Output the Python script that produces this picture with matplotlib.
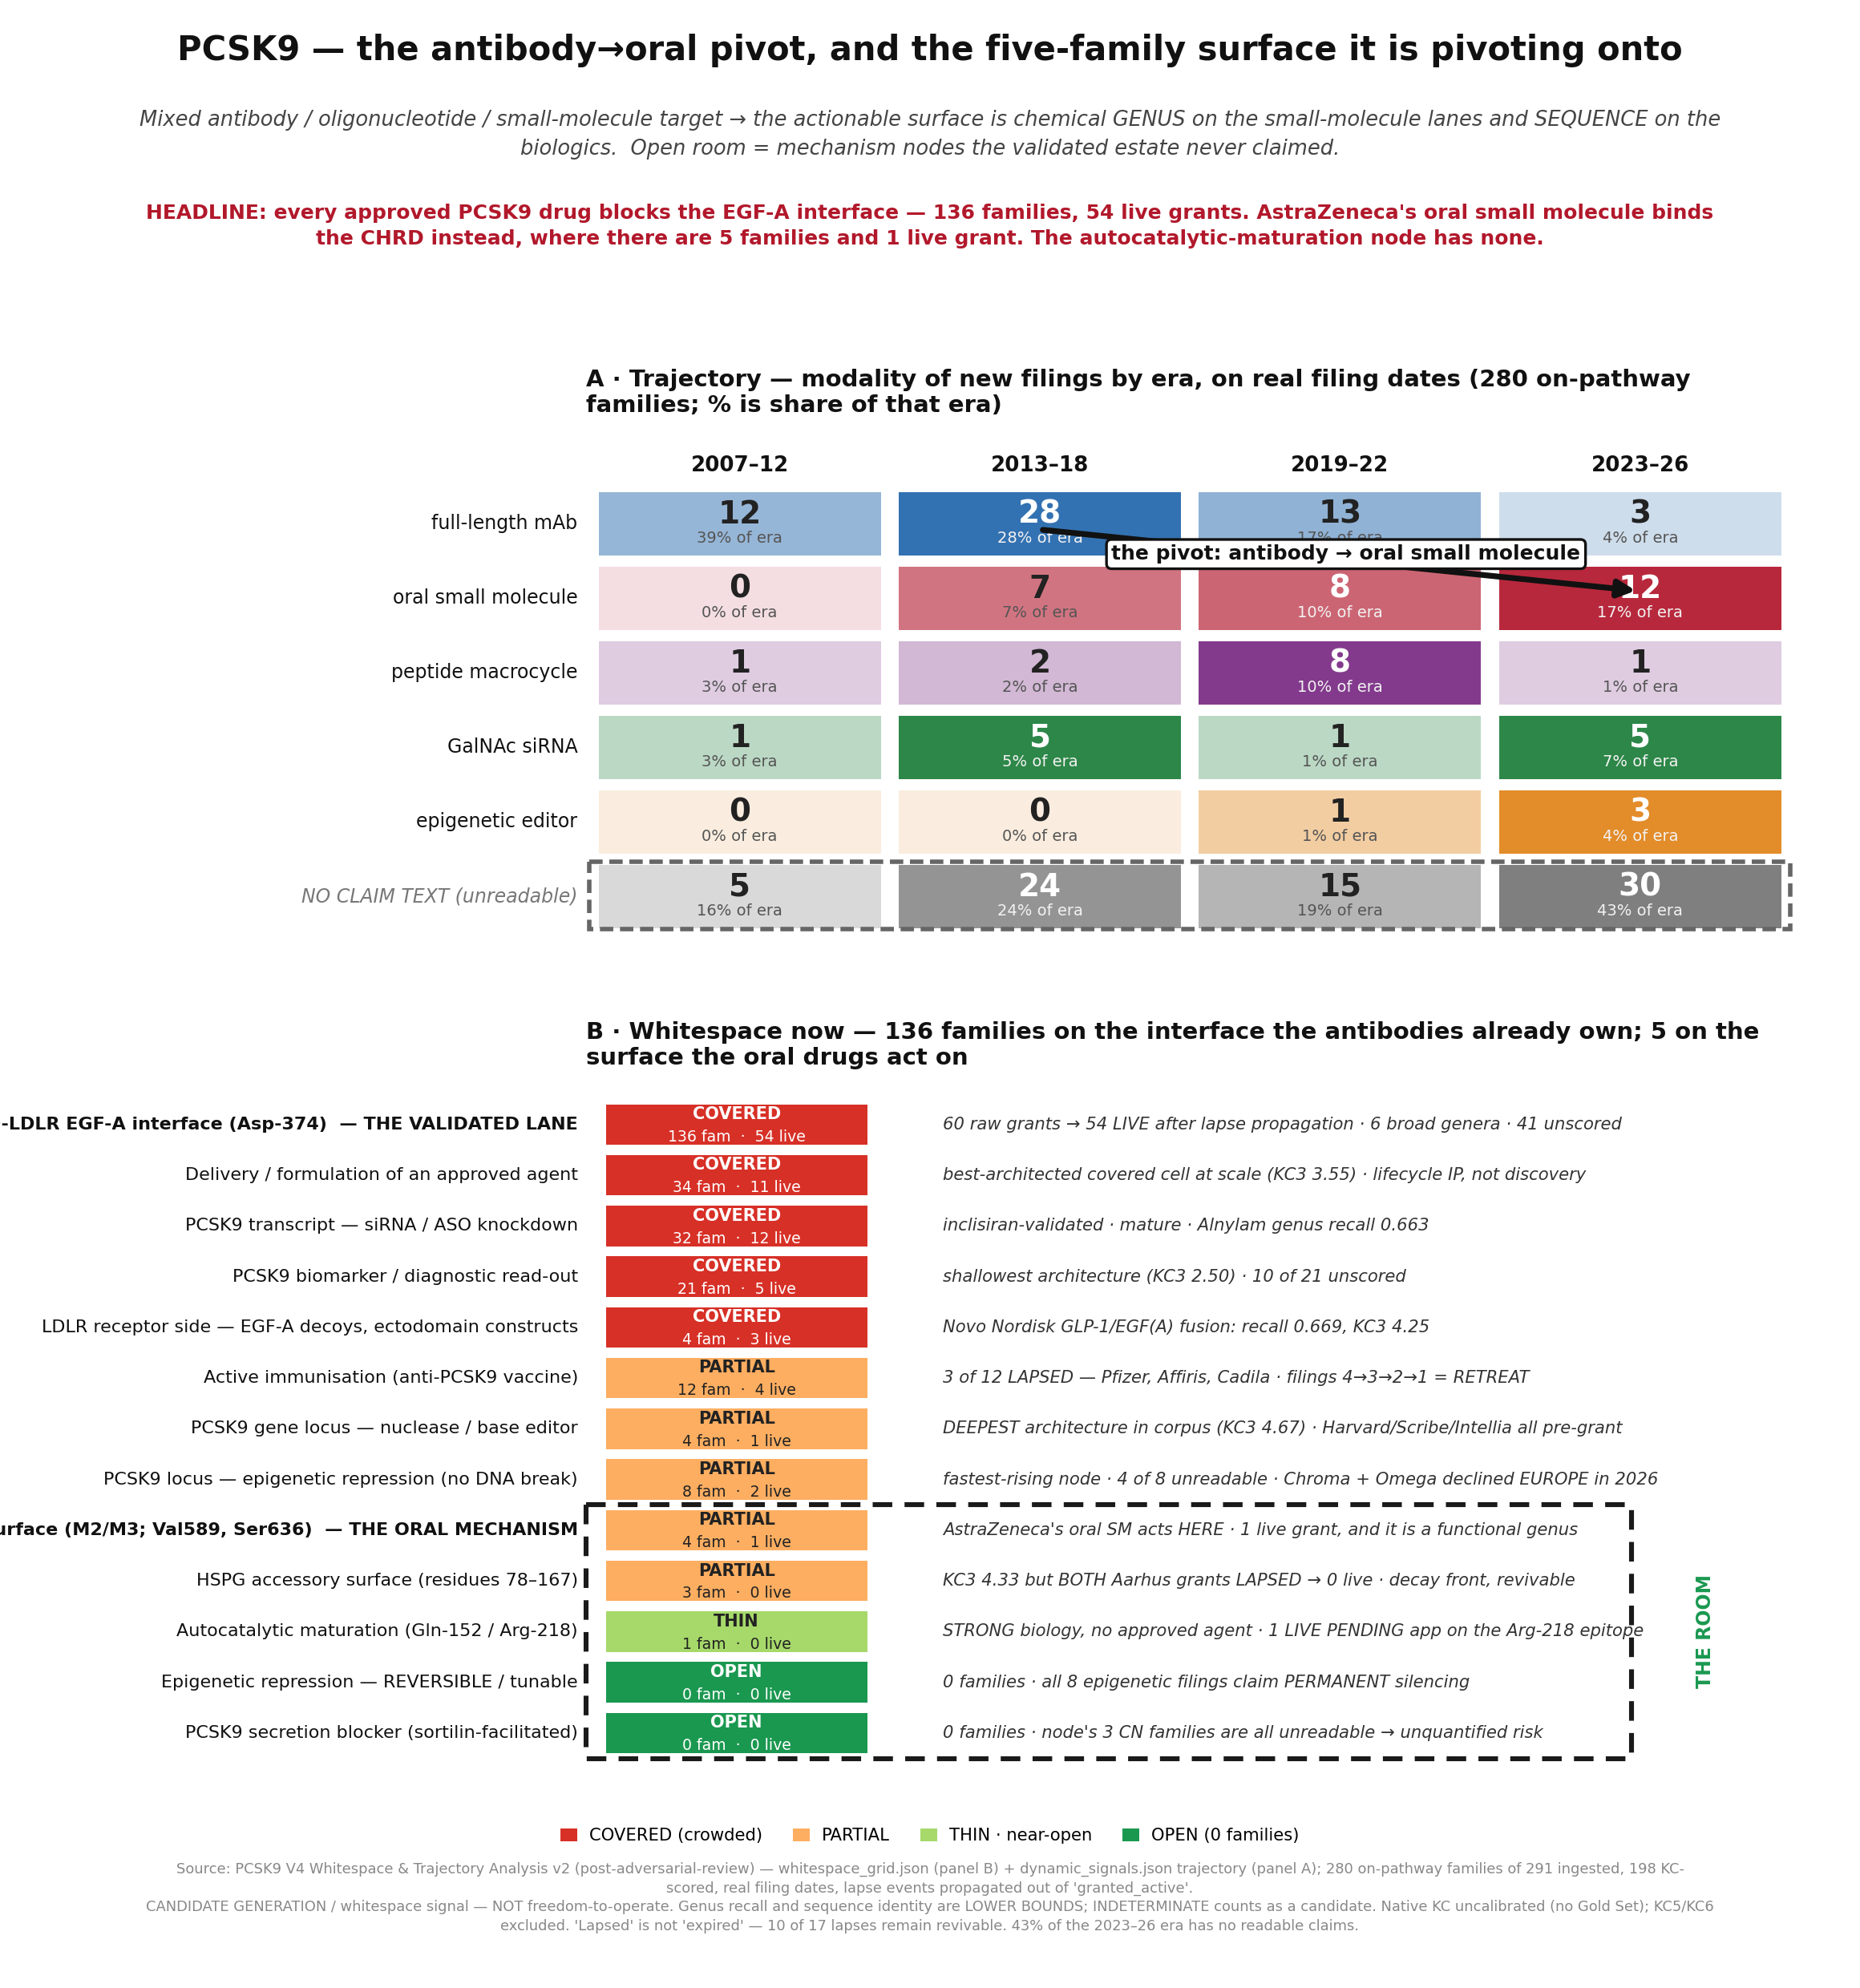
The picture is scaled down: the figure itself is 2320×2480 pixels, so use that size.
import matplotlib
matplotlib.use('Agg')
import matplotlib.pyplot as plt
from matplotlib.patches import Rectangle, Patch

# ---- panel A data: new filings by modality and era
eras = ['2007–12', '2013–18', '2019–22', '2023–26']
modalities = ['full-length mAb', 'oral small molecule', 'peptide macrocycle',
              'GalNAc siRNA', 'epigenetic editor', 'NO CLAIM TEXT (unreadable)']
counts = [
    [12, 28, 13, 3],
    [0, 7, 8, 12],
    [1, 2, 8, 1],
    [1, 5, 1, 5],
    [0, 0, 1, 3],
    [5, 24, 15, 30],
]
share_pct = [
    [39, 28, 17, 4],
    [0, 7, 10, 17],
    [3, 2, 10, 1],
    [3, 5, 1, 7],
    [0, 0, 1, 4],
    [16, 24, 19, 43],
]
row_colors = ['#3372b2', '#b8283c', '#833a8d', '#2d8748', '#e38c2a', '#7f7f7f']

# ---- panel B data: whitespace grid
nodes = [
    'PCSK9-LDLR EGF-A interface (Asp-374)  — THE VALIDATED LANE',
    'Delivery / formulation of an approved agent',
    'PCSK9 transcript — siRNA / ASO knockdown',
    'PCSK9 biomarker / diagnostic read-out',
    'LDLR receptor side — EGF-A decoys, ectodomain constructs',
    'Active immunisation (anti-PCSK9 vaccine)',
    'PCSK9 gene locus — nuclease / base editor',
    'PCSK9 locus — epigenetic repression (no DNA break)',
    'CHRD C-terminal surface (M2/M3; Val589, Ser636)  — THE ORAL MECHANISM',
    'HSPG accessory surface (residues 78–167)',
    'Autocatalytic maturation (Gln-152 / Arg-218)',
    'Epigenetic repression — REVERSIBLE / tunable',
    'PCSK9 secretion blocker (sortilin-facilitated)',
]
bold_nodes = [0, 8]
status = ['COVERED'] * 5 + ['PARTIAL'] * 5 + ['THIN', 'OPEN', 'OPEN']
fams = [136, 34, 32, 21, 4, 12, 4, 8, 4, 3, 1, 0, 0]
live = [54, 11, 12, 5, 3, 4, 1, 2, 1, 0, 0, 0, 0]
notes = [
    '60 raw grants → 54 LIVE after lapse propagation · 6 broad genera · 41 unscored',
    'best-architected covered cell at scale (KC3 3.55) · lifecycle IP, not discovery',
    'inclisiran-validated · mature · Alnylam genus recall 0.663',
    'shallowest architecture (KC3 2.50) · 10 of 21 unscored',
    'Novo Nordisk GLP-1/EGF(A) fusion: recall 0.669, KC3 4.25',
    '3 of 12 LAPSED — Pfizer, Affiris, Cadila · filings 4→3→2→1 = RETREAT',
    'DEEPEST architecture in corpus (KC3 4.67) · Harvard/Scribe/Intellia all pre-grant',
    'fastest-rising node · 4 of 8 unreadable · Chroma + Omega declined EUROPE in 2026',
    "AstraZeneca's oral SM acts HERE · 1 live grant, and it is a functional genus",
    'KC3 4.33 but BOTH Aarhus grants LAPSED → 0 live · decay front, revivable',
    'STRONG biology, no approved agent · 1 LIVE PENDING app on the Arg-218 epitope',
    '0 families · all 8 epigenetic filings claim PERMANENT silencing',
    "0 families · node's 3 CN families are all unreadable → unquantified risk",
]
status_colors = {'COVERED': '#d73027', 'PARTIAL': '#fdae61', 'THIN': '#a6d96a', 'OPEN': '#1a9850'}
status_labels = {'COVERED': 'COVERED (crowded)', 'PARTIAL': 'PARTIAL',
                 'THIN': 'THIN · near-open', 'OPEN': 'OPEN (0 families)'}

fig = plt.figure(figsize=(11.6, 12.4), dpi=200)

# header texts
fig.text(0.5, 0.9745, 'PCSK9 — the antibody→oral pivot, and the five-family surface it is pivoting onto',
         ha='center', va='center', fontsize=15, fontweight='bold', color='#111')
fig.text(0.5, 0.9324,
         'Mixed antibody / oligonucleotide / small-molecule target → the actionable surface is chemical GENUS on the small-molecule lanes and SEQUENCE on the\n'
         'biologics.  Open room = mechanism nodes the validated estate never claimed.',
         ha='center', va='center', fontsize=9.25, style='italic', color='#444', linespacing=1.5)
fig.text(0.5, 0.8862,
         "HEADLINE: every approved PCSK9 drug blocks the EGF-A interface — 136 families, 54 live grants. AstraZeneca's oral small molecule binds\n"
         'the CHRD instead, where there are 5 families and 1 live grant. The autocatalytic-maturation node has none.',
         ha='center', va='center', fontsize=9, fontweight='bold', color='#b2182b', linespacing=1.45)

# ---- panel A
axA = fig.add_axes([0.3170, 0.5304, 0.6455, 0.2250])
axA.set_xlim(-0.5, 3.5)
axA.set_ylim(5.5, -0.5)
axA.axis('off')
fig.text(0.315, 0.8023,
         'A · Trajectory — modality of new filings by era, on real filing dates (280 on-pathway\n'
         'families; % is share of that era)',
         ha='left', va='center', fontsize=10.5, fontweight='bold', color='#111', linespacing=1.2)

for c, era in enumerate(eras):
    axA.text(c, -0.77, era, ha='center', va='center', fontsize=9.4, fontweight='bold', color='#111')

for r, mod in enumerate(modalities):
    rmax = max(counts[r]) or 1
    last = (r == len(modalities) - 1)
    axA.text(-0.54, r, mod, ha='right', va='center', fontsize=8.5,
             color='#777' if last else '#111', style='italic' if last else 'normal')
    for c in range(len(eras)):
        v = counts[r][c]
        frac = v / rmax
        axA.add_patch(Rectangle((c - 0.47, r - 0.425), 0.94, 0.85,
                                facecolor=row_colors[r], alpha=0.15 + 0.85 * frac, edgecolor='none'))
        dark = frac > 0.6
        axA.text(c, r - 0.12, str(v), ha='center', va='center', fontsize=14, fontweight='bold',
                 color='white' if dark else '#222')
        axA.text(c, r + 0.2, f'{share_pct[r][c]}% of era', ha='center', va='center', fontsize=7,
                 color='#f2f2f2' if dark else '#555')

axA.add_patch(Rectangle((-0.5, 4.54), 4.0, 0.9, fill=False, edgecolor='#666',
                        linestyle=(0, (3, 1.5)), linewidth=2, clip_on=False))

axA.annotate('', xy=(2.985, 0.90), xytext=(1.01, 0.085),
             arrowprops=dict(arrowstyle='-|>', lw=2.6, color='#111', mutation_scale=16,
                             shrinkA=0, shrinkB=0))
axA.text(2.02, 0.41, 'the pivot: antibody → oral small molecule', ha='center', va='center',
         fontsize=9, fontweight='bold', color='#111',
         bbox=dict(boxstyle='round,pad=0.25', fc='white', ec='#111', lw=1.2))

# ---- panel B
axB = fig.add_axes([0.3149, 0.1155, 0.6476, 0.3316])
axB.set_xlim(0, 1)
axB.set_ylim(len(nodes) - 0.5, -0.5)
axB.axis('off')
fig.text(0.315, 0.4742,
         'B · Whitespace now — 136 families on the interface the antibodies already own; 5 on the\n'
         'surface the oral drugs act on',
         ha='left', va='center', fontsize=10.5, fontweight='bold', color='#111', linespacing=1.2)

for i, node in enumerate(nodes):
    st = status[i]
    axB.text(-0.0063, i, node, ha='right', va='center', fontsize=8, color='#111',
             fontweight='bold' if i in bold_nodes else 'normal')
    axB.add_patch(Rectangle((0.0168, i - 0.4), 0.217, 0.8, facecolor=status_colors[st], edgecolor='none'))
    tc = 'white' if st in ('COVERED', 'OPEN') else '#222'
    axB.text(0.1252, i - 0.2, st, ha='center', va='center', fontsize=7.5, fontweight='bold', color=tc)
    axB.text(0.1252, i + 0.25, f'{fams[i]} fam  ·  {live[i]} live', ha='center', va='center',
             fontsize=6.8, color=tc)
    axB.text(0.2968, i, notes[i], ha='left', va='center', fontsize=7.6, style='italic', color='#333')

axB.add_patch(Rectangle((0, 7.5), 0.8684, 5.0, fill=False, edgecolor='#1a1a1a',
                        linestyle=(0, (4, 2.5)), linewidth=2.2, clip_on=False))
axB.text(0.9295, 10, 'THE ROOM', rotation=90, ha='center', va='center', fontsize=8.5,
         fontweight='bold', color='#1a9850')

handles = [Patch(facecolor=status_colors[k], edgecolor='none', label=status_labels[k])
           for k in ['COVERED', 'PARTIAL', 'THIN', 'OPEN']]
fig.legend(handles=handles, loc='center', bbox_to_anchor=(0.5, 0.0765), ncol=4, frameon=False,
           fontsize=7.6, handlelength=1.0, handleheight=0.8, columnspacing=1.8, handletextpad=0.7)

fig.text(0.5, 0.0635,
         'Source: PCSK9 V4 Whitespace & Trajectory Analysis v2 (post-adversarial-review) — whitespace_grid.json (panel B) + dynamic_signals.json trajectory (panel A); 280 on-pathway families of 291 ingested, 198 KC-\n'
         "scored, real filing dates, lapse events propagated out of 'granted_active'.\n"
         'CANDIDATE GENERATION / whitespace signal — NOT freedom-to-operate. Genus recall and sequence identity are LOWER BOUNDS; INDETERMINATE counts as a candidate. Native KC uncalibrated (no Gold Set); KC5/KC6\n'
         "excluded. 'Lapsed' is not 'expired' — 10 of 17 lapses remain revivable. 43% of the 2023–26 era has no readable claims.",
         ha='center', va='top', fontsize=6.45, color='#888', linespacing=1.4)

fig.savefig('out.png', dpi=200)
